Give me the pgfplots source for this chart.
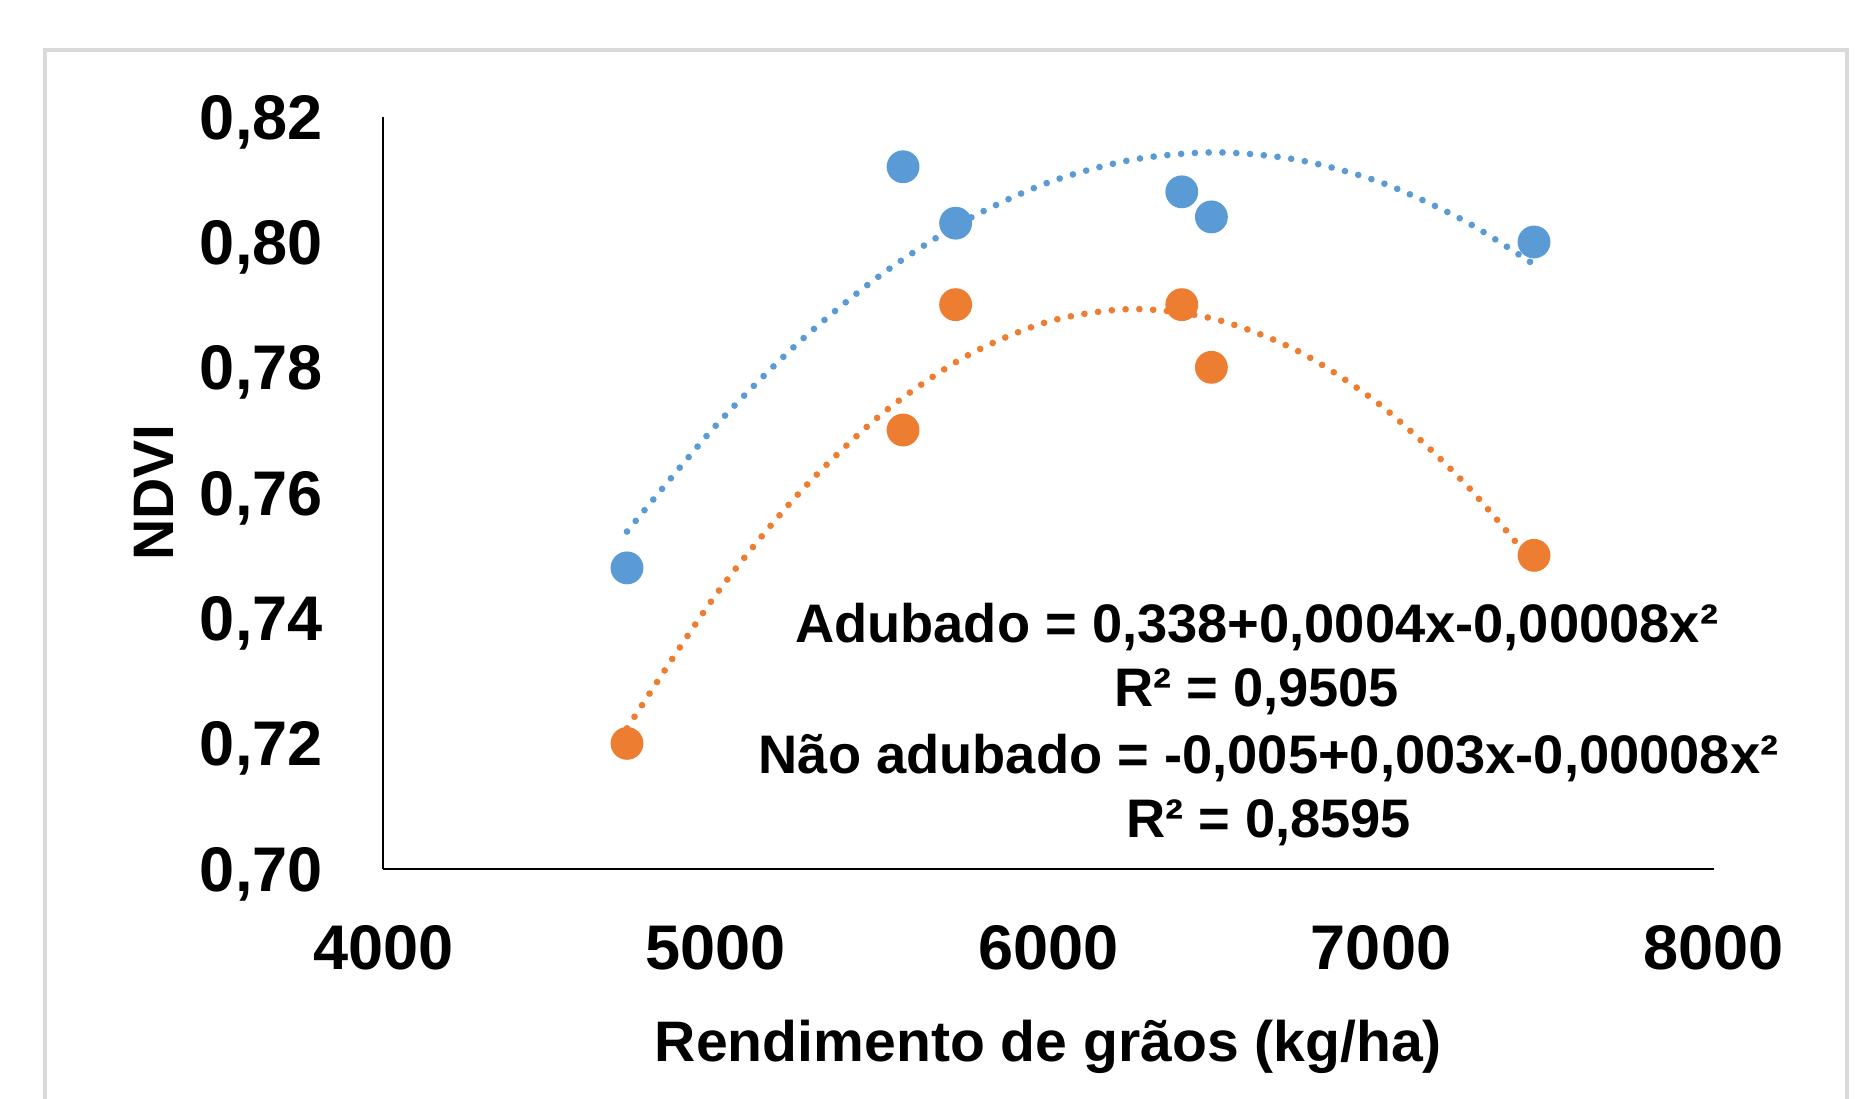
\documentclass[border=0pt]{standalone}
\usepackage{pgfplots}
\pgfplotsset{compat=1.18}
\usepackage{fontspec}
\setmainfont{Liberation Sans}
\definecolor{serA}{HTML}{5B9BD5}
\definecolor{serB}{HTML}{ED7D31}
\definecolor{framegray}{HTML}{D9D9D9}
\begin{document}
\begin{tikzpicture}
\useasboundingbox (-80.5pt,-48.25pt) rectangle (311.5pt,182.5pt);
\draw[framegray, line width=0.8pt] (-71pt,-60pt) -- (-71pt,172pt) -- (307.5pt,172pt) -- (307.5pt,-60pt);
\begin{axis}[
  at={(0,0)}, anchor=south west,
  scale only axis, width=279.5pt, height=158pt,
  xmin=4000, xmax=8000, ymin=0.70, ymax=0.82,
  axis x line=bottom, axis y line=left,
  axis line style={-, line width=0.5pt, black},
  xtick={4000,5000,6000,7000,8000},
  xticklabels={4000,5000,6000,7000,8000},
  ytick={0.70,0.72,0.74,0.76,0.78,0.80,0.82},
  yticklabels={{0,70},{0,72},{0,74},{0,76},{0,78},{0,80},{0,82}},
  major tick length=0pt,
  tick label style={font=\fontsize{13.25}{15}\selectfont\bfseries, inner sep=0pt},
  xticklabel style={anchor=base, yshift=-21.25pt},
  yticklabel style={anchor=base east, xshift=-12.5pt, yshift=-4.74pt},
  xlabel={Rendimento de grãos (kg/ha)},
  ylabel={NDVI},
  label style={font=\fontsize{12}{14}\selectfont\bfseries, inner sep=0pt},
  xlabel style={at={(axis description cs:0.5,-0.2563)}, anchor=base},
  ylabel style={at={(axis description cs:-0.1726,0.5)}, anchor=center},
]
% trend lines
\addplot[serA, line width=1.4pt, dash pattern=on 0pt off 2.9pt, line cap=round, smooth, no marks] coordinates {
(4733,0.7538) (5000,0.7707) (5250,0.7840) (5500,0.7949) (5750,0.8034) (6000,0.8095)
(6250,0.8131) (6500,0.8143) (6750,0.8131) (7000,0.8095) (7250,0.8034) (7460,0.7964)};
\addplot[serB, line width=1.4pt, dash pattern=on 0pt off 2.9pt, line cap=round, smooth, no marks] coordinates {
(4733,0.7224) (5000,0.7437) (5250,0.7599) (5500,0.7726) (5750,0.7817) (6000,0.7873)
(6250,0.7893) (6500,0.7877) (6750,0.7826) (7000,0.7739) (7250,0.7616) (7460,0.7486)};
% data
\addplot[only marks, mark=*, mark size=3.25pt, color=serA, mark options={draw=serA, fill=serA}] coordinates {
(4733,0.748) (5563,0.812) (5721,0.803) (6401,0.808) (6490,0.804) (7460,0.800)};
\addplot[only marks, mark=*, mark size=3.25pt, color=serB, mark options={draw=serB, fill=serB}] coordinates {
(4733,0.720) (5563,0.770) (5721,0.790) (6401,0.790) (6490,0.780) (7460,0.750)};
\end{axis}
\begin{scope}[every node/.style={anchor=base, inner sep=0pt, font=\fontsize{11.4}{13}\selectfont\bfseries}]
\node at (183.5pt,47.5pt) {Adubado = 0,338+0,0004x-0,00008x²};
\node at (183.5pt,34pt) {R² = 0,9505};
\node at (186pt,20pt) {Não adubado = -0,005+0,003x-0,00008x²};
\node at (186pt,6.5pt) {R² = 0,8595};
\end{scope}
\end{tikzpicture}
\end{document}
